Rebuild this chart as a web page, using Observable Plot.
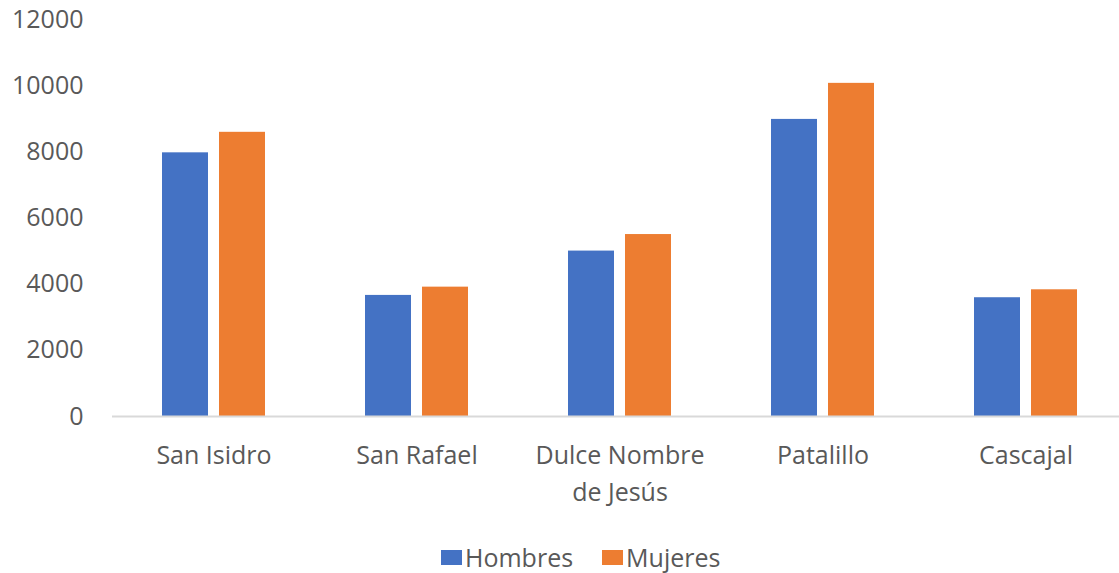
<!DOCTYPE html>
<html>
<head>
<meta charset="utf-8">
<script src="https://cdn.jsdelivr.net/npm/d3@7"></script>
<script src="https://cdn.jsdelivr.net/npm/@observablehq/plot@0.6"></script>
<style>
  body { margin: 0; background: #fff; font-family: "Open Sans", sans-serif; }
  #wrap { position: relative; width: 1119px; height: 573px; overflow: hidden; }
  #legend { position: absolute; left: 0; top: 538px; width: 1119px; padding-left: 441px; box-sizing: border-box; }
  #legend > div { font-family: "Open Sans", sans-serif !important; font-size: 25px !important; color: #595959 !important; min-height: 38px !important; margin: 0 !important; }
  #legend span { margin-right: 29px !important; }
  #legend svg { margin-right: 3px !important; }
</style>
</head>
<body>
<div id="wrap"></div>
<script>
const categories = ["San Isidro", "San Rafael", "Dulce Nombre de Jesús", "Patalillo", "Cascajal"];
const categoryLabels = ["San Isidro", "San Rafael", "Dulce Nombre\nde Jesús", "Patalillo", "Cascajal"];
const series = ["Hombres", "Mujeres"];
const hombres = [7970, 3660, 5000, 8980, 3590];
const mujeres = [8590, 3910, 5500, 10070, 3830];
const yTicks = [0, 2000, 4000, 6000, 8000, 10000, 12000];
const colors = ["#4472C4", "#ED7D31"];

const data = [];
categories.forEach((c, i) => {
  data.push({category: c, serie: series[0], value: hombres[i]});
  data.push({category: c, serie: series[1], value: mujeres[i]});
});
const labelOf = new Map(categories.map((c, i) => [c, categoryLabels[i]]));

const chart = Plot.plot({
  width: 1119,
  height: 515,
  marginTop: 19,
  marginBottom: 99,
  marginLeft: 111,
  marginRight: 0,
  style: {fontFamily: "Open Sans, sans-serif", fontSize: "25px", color: "#595959", background: "#fff"},
  fx: {domain: categories, range: [111, 1127], paddingInner: 0, paddingOuter: 0, label: null, axis: null},
  x: {domain: series, paddingInner: 0.2, paddingOuter: 0.875, axis: null},
  y: {domain: [0, 12000], axis: null},
  color: {domain: series, range: colors},
  marks: [
    Plot.axisY({ticks: yTicks, tickSize: 0, tickPadding: 29, tickFormat: d => String(d), label: null, fill: "#595959", fontSize: 25}),
    Plot.axisFx({anchor: "bottom", tickSize: 0, tickPadding: 22, tickFormat: d => labelOf.get(d), label: null, lineHeight: 1.46, fill: "#595959", fontSize: 25}),
    Plot.barY(data, {fx: "category", x: "serie", y: "value", fill: "serie"}),
    Plot.ruleY([0], {stroke: "#d9d9d9", strokeWidth: 2})
  ]
});
document.getElementById("wrap").appendChild(chart);

const legend = Plot.legend({
  color: {domain: series, range: colors},
  swatchWidth: 21,
  swatchHeight: 15,
  style: {fontFamily: "Open Sans, sans-serif", fontSize: "25px", color: "#595959"}
});
const ld = document.createElement("div");
ld.id = "legend";
ld.appendChild(legend);
document.getElementById("wrap").appendChild(ld);
</script>
</body>
</html>
